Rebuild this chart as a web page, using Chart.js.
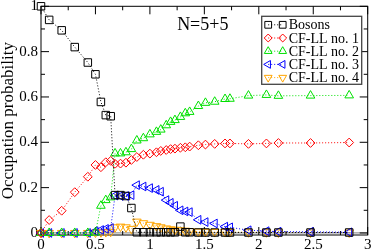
<!DOCTYPE html>
<html>
<head>
<meta charset="utf-8">
<script src="https://cdn.jsdelivr.net/npm/chart.js@4.4.0/dist/chart.umd.min.js"></script>
<style>
  html, body { margin: 0; padding: 0; background: #fff; }
  #wrap { width: 374px; height: 250px; }
</style>
</head>
<body>
<div id="wrap"><canvas id="chart" width="374" height="250"></canvas></div>
<script>
// x parameter shared by all curves
const xValues = [0, 0.075, 0.19, 0.31, 0.43, 0.5, 0.55, 0.595, 0.64, 0.68, 0.73, 0.78, 0.83, 0.88,
  0.94, 1.0, 1.06, 1.1, 1.15, 1.19, 1.23, 1.28, 1.325, 1.365, 1.445, 1.51, 1.595, 1.69, 1.735,
  1.905, 2.07, 2.18, 2.475, 2.83];

const bosons = [1.0, 0.94, 0.894, 0.82, 0.752, 0.70, 0.578, 0.52, 0.515, 0.167, 0.167, 0.163, 0.11, 0.003,
  0.003, 0.003, 0.003, 0.003, 0.003, 0.003, 0.003, 0.028, 0.003, 0.003, 0.002, 0.002, 0.002, 0.002, 0.002,
  0.002, 0.002, 0.002, 0.002, 0.002];
const cfLL1 = [0, 0.057, 0.098, 0.18, 0.248, 0.30, 0.29, 0.312, 0.318, 0.305, 0.306, 0.31, 0.322, 0.335,
  0.345, 0.35, 0.356, 0.362, 0.366, 0.37, 0.372, 0.376, 0.378, 0.381, 0.387, 0.39, 0.393, 0.395, 0.395,
  0.393, 0.395, 0.397, 0.397, 0.399];
const cfLL2 = [0, 0, 0, 0, 0, 0.002, 0.12, 0.145, 0.157, 0.351, 0.351, 0.356, 0.37, 0.408,
  0.418, 0.435, 0.446, 0.456, 0.475, 0.49, 0.498, 0.512, 0.528, 0.534, 0.56, 0.574, 0.579, 0.591, 0.592,
  0.606, 0.609, 0.605, 0.606, 0.607];
const cfLL3 = [0, 0, 0, 0, 0, 0.008, 0.013, 0.018, 0.022, 0.165, 0.163, 0.163, 0.167, 0.211,
  0.205, 0.198, 0.19, 0.182, 0.145, 0.133, 0.12, 0.1, 0.095, 0.092, 0.058, 0.048, 0.042, 0.028, 0.025,
  0.012, 0.008, 0.006, 0.005, 0.003];
const cfLL4 = [0, 0, 0, 0, 0, 0.002, 0.003, 0.004, 0.005, 0.025, 0.028, 0.025, 0.018, 0.05,
  0.043, 0.036, 0.03, 0.025, 0.02, 0.016, 0.014, 0.012, 0.01, 0.008, 0.006, 0.005, 0.004, 0.004, 0.004,
  0.003, 0.003, 0.002, 0.002, 0.002];

const seriesLabels = ['Bosons', 'CF-LL no. 1', 'CF-LL no. 2', 'CF-LL no. 3', 'CF-LL no. 4'];

const xTicks = [0, 0.5, 1, 1.5, 2, 2.5, 3];
const xMinorTicks = [0.25, 0.75, 1.25, 1.75, 2.25, 2.75];
const yTicks = [0, 0.2, 0.4, 0.6, 0.8, 1];
const yMinorTicks = [0.1, 0.3, 0.5, 0.7, 0.9];

const serif = "'Liberation Serif', 'Times New Roman', serif";

function toPoints(ys) {
    return xValues.map((x, i) => ({ x: x, y: ys[i] }));
}

function makeSet(label, ys, color, style, rotation, radius) {
    return {
        label: label,
        data: toPoints(ys),
        showLine: true,
        borderColor: color,
        backgroundColor: 'rgba(0,0,0,0)',
        borderWidth: 1,
        borderDash: [1, 2],
        pointStyle: style,
        pointRotation: rotation,
        pointRadius: radius,
        pointBorderWidth: 1,
        pointBorderColor: color,
        pointBackgroundColor: 'rgba(0,0,0,0)',
        tension: 0,
        clip: false
    };
}

// frame with inward ticks on all four sides, like the original plot
const framePlugin = {
    id: 'frame',
    beforeDatasetsDraw(chart) {
        const { ctx, chartArea: a, scales } = chart;
        const x = scales.x, y = scales.y;
        const seg = (x1, y1, x2, y2) => { ctx.beginPath(); ctx.moveTo(x1, y1); ctx.lineTo(x2, y2); ctx.stroke(); };
        ctx.save();
        const y0 = y.getPixelForValue(0);
        ctx.strokeStyle = '#9a9a9a';
        ctx.lineWidth = 1.2;
        seg(a.left, y0, a.right, y0);

        ctx.strokeStyle = '#000';
        ctx.lineWidth = 1;
        ctx.strokeRect(a.left, a.top, a.right - a.left, a.bottom - a.top);
        xTicks.forEach(v => {
            const px = x.getPixelForValue(v);
            seg(px, a.bottom, px, a.bottom - 8);
            seg(px, a.top, px, a.top + 8);
        });
        xMinorTicks.forEach(v => {
            const px = x.getPixelForValue(v);
            seg(px, a.bottom, px, a.bottom - 4);
            seg(px, a.top, px, a.top + 4);
        });
        yTicks.forEach(v => {
            const py = y.getPixelForValue(v);
            seg(a.left, py, a.left + 8, py);
            seg(a.right, py, a.right - 8, py);
        });
        yMinorTicks.forEach(v => {
            const py = y.getPixelForValue(v);
            seg(a.left, py, a.left + 4, py);
            seg(a.right, py, a.right - 4, py);
        });
        ctx.restore();
    }
};

function drawMarker(ctx, ds, cx, cy) {
    const opts = { pointStyle: ds.pointStyle, rotation: ds.pointRotation, radius: ds.pointRadius * 0.9, borderWidth: 1 };
    ctx.fillStyle = 'rgba(0,0,0,0)';
    ctx.strokeStyle = ds.borderColor;
    ctx.lineWidth = 1;
    Chart.helpers.drawPoint(ctx, opts, cx, cy);
}

// boxed legend in the top right corner + the N=5+5 note
const notesPlugin = {
    id: 'notes',
    afterDatasetsDraw(chart) {
        const { ctx, chartArea: a, scales } = chart;
        ctx.save();

        ctx.fillStyle = '#000';
        ctx.font = '18px ' + serif;
        ctx.textBaseline = 'middle';
        ctx.textAlign = 'left';
        ctx.fillText('N=5+5', scales.x.getPixelForValue(1.25), scales.y.getPixelForValue(0.915));

        const left = a.right - 106, top = a.top + 10, w = 100, h = 68, rowH = 13.2;
        ctx.fillStyle = '#fff';
        ctx.fillRect(left, top, w, h);
        ctx.strokeStyle = '#444';
        ctx.lineWidth = 1.3;
        ctx.strokeRect(left, top, w, h);

        ctx.font = '14px ' + serif;
        chart.data.datasets.forEach((ds, i) => {
            const cy = top + 8.5 + i * rowH;
            const x1 = left + 6.5, x2 = left + 21;
            ctx.strokeStyle = ds.borderColor;
            ctx.lineWidth = 1;
            ctx.setLineDash([1, 2]);
            ctx.beginPath(); ctx.moveTo(x1, cy); ctx.lineTo(x2, cy); ctx.stroke();
            ctx.setLineDash([]);
            drawMarker(ctx, ds, x1, cy);
            drawMarker(ctx, ds, x2, cy);
            ctx.fillStyle = '#000';
            ctx.fillText(ds.label, left + 27, cy + 1);
        });
        ctx.restore();
    }
};

const chart = new Chart(document.getElementById('chart').getContext('2d'), {
    type: 'scatter',
    data: {
        datasets: [
            makeSet(seriesLabels[0], bosons, '#000000', 'rect', 0, 5.3),
            makeSet(seriesLabels[1], cfLL1, '#ff0000', 'rectRot', 0, 4.4),
            makeSet(seriesLabels[2], cfLL2, '#00e000', 'triangle', 0, 5),
            makeSet(seriesLabels[3], cfLL3, '#0000ff', 'triangle', -90, 5),
            makeSet(seriesLabels[4], cfLL4, '#ffa500', 'triangle', 180, 5)
        ]
    },
    options: {
        responsive: false,
        animation: false,
        devicePixelRatio: 1,
        layout: { padding: { top: 5, right: 5, left: 0, bottom: 0 } },
        plugins: {
            legend: { display: false },
            tooltip: { enabled: false }
        },
        scales: {
            x: {
                type: 'linear',
                min: 0,
                max: 3,
                grid: { display: false, drawTicks: false },
                border: { display: false },
                ticks: {
                    color: '#000',
                    font: { family: serif, size: 15 },
                    padding: 1,
                    maxRotation: 0,
                    autoSkip: false,
                    callback: v => String(v)
                },
                afterBuildTicks: s => { s.ticks = xTicks.map(v => ({ value: v })); },
                afterFit: s => { s.height = 15; s.paddingLeft = 0; s.paddingRight = 0; }
            },
            y: {
                type: 'linear',
                min: -0.009,
                max: 1,
                grid: { display: false, drawTicks: false },
                border: { display: false },
                ticks: {
                    color: '#000',
                    font: { family: serif, size: 15 },
                    padding: 3,
                    callback: v => String(v)
                },
                title: {
                    display: true,
                    text: 'Occupation probability',
                    color: '#000',
                    font: { family: serif, size: 17, lineHeight: 1 },
                    padding: { top: 0, bottom: 0 }
                },
                afterBuildTicks: s => { s.ticks = yTicks.map(v => ({ value: v })); },
                afterFit: s => { s.width = 41; s.paddingTop = 0; s.paddingBottom = 0; }
            }
        }
    },
    plugins: [framePlugin, notesPlugin]
});
</script>
</body>
</html>
